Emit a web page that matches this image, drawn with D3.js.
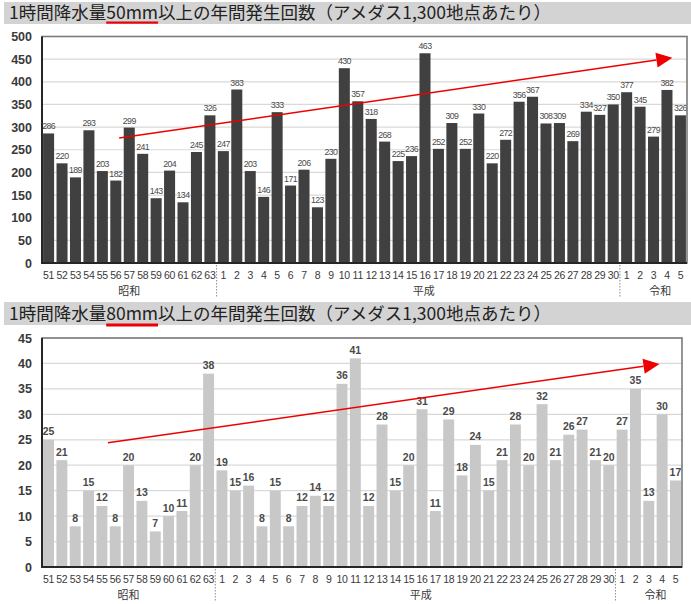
<!DOCTYPE html>
<html>
<head>
<meta charset="utf-8">
<script src="https://cdn.jsdelivr.net/npm/d3@7"></script>
<style>
  html, body { margin: 0; padding: 0; background: #fff; }
  svg { display: block; }
</style>
</head>
<body>
<svg id="chart" width="691" height="604"></svg>
<script>
// Fiscal years: Showa 51–63, Heisei 1–30, Reiwa 1–5
const showaYears = ["51","52","53","54","55","56","57","58","59","60","61","62","63"];
const heiseiYears = d3.range(1, 31).map(String);
const reiwaYears = d3.range(1, 6).map(String);
const eras = [
  { name: "昭和", years: showaYears },
  { name: "平成", years: heiseiYears },
  { name: "令和", years: reiwaYears }
];

// Annual count of hourly rainfall >= 50mm (per 1,300 AMeDAS stations)
const count50mm = [
  286, 220, 189, 293, 203, 182, 299, 241, 143, 204, 134, 245, 326,
  247, 383, 203, 146, 333, 171, 206, 123, 230, 430, 357, 318, 268, 225, 236, 463, 252,
  309, 252, 330, 220, 272, 356, 367, 308, 309, 269, 334, 327, 350,
  377, 345, 279, 382, 326
];

// Annual count of hourly rainfall >= 80mm (per 1,300 AMeDAS stations)
const count80mm = [
  25, 21, 8, 15, 12, 8, 20, 13, 7, 10, 11, 20, 38,
  19, 15, 16, 8, 15, 8, 12, 14, 12, 36, 41, 12, 28, 15, 20, 31, 11,
  29, 18, 24, 15, 21, 28, 20, 32, 21, 26, 27, 21, 20,
  27, 35, 13, 30, 17
];

const ticks50 = [0, 50, 100, 150, 200, 250, 300, 350, 400, 450, 500];
const ticks80 = [0, 5, 10, 15, 20, 25, 30, 35, 40, 45];

// Trend arrows, given as (bar position, value) at each end
const trend50 = [{ pos: 5.25, value: 276 }, { pos: 46.4, value: 453 }];
const trend80 = [{ pos: 4.45, value: 24.4 }, { pos: 45.8, value: 39.9 }];

const titles = [
  { pre: "1時間降水量", mark: "50mm", post: "以上の年間発生回数（アメダス1,300地点あたり）" },
  { pre: "1時間降水量", mark: "80mm", post: "以上の年間発生回数（アメダス1,300地点あたり）" }
];

// Build category keys (era + year) so labels can repeat across eras
const categories = [];
eras.forEach((e, ei) => e.years.forEach(y => categories.push({ key: e.name + y, label: y, era: ei })));

const svg = d3.select("#chart");

function drawPanel(opt) {
  const g = svg.append("g");

  // Title bar
  g.append("rect")
    .attr("x", 4).attr("y", opt.titleY)
    .attr("width", 687).attr("height", opt.titleH)
    .attr("fill", "#d3d3d3");

  const title = g.append("text")
    .attr("x", 9).attr("y", opt.titleY + opt.titleH - 5)
    .attr("font-family", "'Noto Sans CJK JP', sans-serif")
    .attr("font-size", 17.5)
    .attr("font-weight", 400)
    .attr("fill", "#222");
  title.append("tspan").text(opt.title.pre);
  title.append("tspan").text(opt.title.mark);
  title.append("tspan").text(opt.title.post);

  // Red underline beneath the threshold
  const node = title.node();
  const i0 = opt.title.pre.length;
  const i1 = i0 + opt.title.mark.length - 1;
  const ux0 = node.getStartPositionOfChar(i0).x;
  const ux1 = node.getEndPositionOfChar(i1).x;
  g.append("rect")
    .attr("x", ux0).attr("y", opt.underlineY)
    .attr("width", ux1 - ux0).attr("height", opt.underlineH)
    .attr("fill", "#e8000b");

  const x = d3.scaleBand()
    .domain(categories.map(c => c.key))
    .range([opt.left, opt.right])
    .paddingInner(0.18)
    .paddingOuter(0.08);

  const y = d3.scaleLinear()
    .domain([0, opt.ticks[opt.ticks.length - 1]])
    .range([opt.bottom, opt.top]);

  // Horizontal gridlines
  g.append("g").selectAll("line")
    .data(opt.ticks.slice(1))
    .join("line")
    .attr("x1", opt.left).attr("x2", opt.right)
    .attr("y1", d => y(d)).attr("y2", d => y(d))
    .attr("stroke", "#d9d9d9").attr("stroke-width", 1.2);

  // Y axis labels
  const yAxis = d3.axisLeft(y).tickValues(opt.ticks).tickSize(0).tickPadding(10);
  const ya = g.append("g").attr("transform", `translate(${opt.left},0)`).call(yAxis);
  ya.select(".domain").remove();
  ya.selectAll("text")
    .attr("font-family", "'Liberation Sans', Arial, sans-serif")
    .attr("font-size", 12.5)
    .attr("font-weight", "bold")
    .attr("fill", "#3a3a3a");

  // Bars
  const data = categories.map((c, i) => ({ ...c, value: opt.values[i] }));
  g.append("g").selectAll("rect")
    .data(data)
    .join("rect")
    .attr("x", d => x(d.key))
    .attr("y", d => y(d.value))
    .attr("width", x.bandwidth())
    .attr("height", d => y(0) - y(d.value))
    .attr("fill", opt.barColor);

  // Value labels
  g.append("g").selectAll("text")
    .data(data)
    .join("text")
    .attr("x", d => x(d.key) + x.bandwidth() / 2)
    .attr("y", d => y(d.value) - opt.labelGap)
    .attr("text-anchor", "middle")
    .attr("font-family", "'Liberation Sans', Arial, sans-serif")
    .attr("font-size", opt.labelSize)
    .attr("font-weight", opt.labelWeight)
    .attr("letter-spacing", opt.labelSpacing)
    .attr("fill", "#4a4a4a")
    .text(d => d.value);

  // Plot frame: grey top/right, dark axes at left/bottom
  g.append("rect")
    .attr("x", opt.left).attr("y", opt.top)
    .attr("width", opt.right - opt.left).attr("height", opt.bottom - opt.top)
    .attr("fill", "none").attr("stroke", "#7a7a7a").attr("stroke-width", 1.6);
  g.append("path")
    .attr("d", `M${opt.left},${opt.top}V${opt.bottom}H${opt.right}`)
    .attr("fill", "none").attr("stroke", "#262626").attr("stroke-width", 2);

  // X axis year labels
  const xAxis = d3.axisBottom(x).tickSize(0).tickPadding(9)
    .tickFormat(k => categories.find(c => c.key === k).label);
  const xa = g.append("g").attr("transform", `translate(0,${opt.bottom})`).call(xAxis);
  xa.select(".domain").remove();
  xa.selectAll("text")
    .attr("font-family", "'Liberation Sans', Arial, sans-serif")
    .attr("font-size", 10.5)
    .attr("letter-spacing", -0.3)
    .attr("fill", "#3a3a3a");

  // Era separators (dotted) and era names
  const step = x.step();
  let start = 0;
  eras.forEach((e, ei) => {
    const first = categories[start].key;
    const last = categories[start + e.years.length - 1].key;
    const cx = (x(first) + x(last) + x.bandwidth()) / 2;
    g.append("text")
      .attr("x", cx + opt.eraShift[ei] * step)
      .attr("y", opt.bottom + 32)
      .attr("text-anchor", "middle")
      .attr("font-family", "'Noto Sans CJK JP', sans-serif")
      .attr("font-size", 11)
      .attr("fill", "#3a3a3a")
      .text(e.name);
    if (ei < eras.length - 1) {
      const sx = x(last) + x.bandwidth() + (step - x.bandwidth()) / 2;
      g.append("line")
        .attr("x1", sx).attr("x2", sx)
        .attr("y1", opt.bottom + 2).attr("y2", opt.bottom + 34)
        .attr("stroke", "#8a8a8a").attr("stroke-width", 1)
        .attr("stroke-dasharray", "1.5,1.5");
    }
    start += e.years.length;
  });

  // Trend arrow
  const px = p => x(categories[0].key) + x.bandwidth() / 2 + p.pos * step;
  const [a, b] = opt.trend;
  const x0 = px(a), y0 = y(a.value), x1 = px(b), y1 = y(b.value);
  const ang = Math.atan2(y1 - y0, x1 - x0);
  const headLen = 16, headW = 7.5;
  const bx = x1 - headLen * Math.cos(ang), by = y1 - headLen * Math.sin(ang);
  g.append("line")
    .attr("x1", x0).attr("y1", y0).attr("x2", bx).attr("y2", by)
    .attr("stroke", "#ee0000").attr("stroke-width", 1.5);
  g.append("path")
    .attr("d", `M${x1},${y1}L${bx + headW * Math.sin(ang)},${by - headW * Math.cos(ang)}L${bx - headW * Math.sin(ang)},${by + headW * Math.cos(ang)}Z`)
    .attr("fill", "#ee0000");
}

drawPanel({
  title: titles[0], titleY: 2, titleH: 22, underlineY: 21.5, underlineH: 2.2,
  left: 42, right: 687, top: 36.5, bottom: 263,
  values: count50mm, ticks: ticks50, trend: trend50,
  barColor: "#404040", labelSize: 8.8, labelWeight: "normal", labelGap: 4,
  labelSpacing: -0.6,
  eraShift: [0, 0.4, 0.5]
});

drawPanel({
  title: titles[1], titleY: 302, titleH: 23, underlineY: 323.5, underlineH: 3,
  left: 42, right: 682, top: 338, bottom: 567,
  values: count80mm, ticks: ticks80, trend: trend80,
  barColor: "#c8c8c8", labelSize: 10.5, labelWeight: "bold", labelGap: 4.5,
  labelSpacing: 0,
  eraShift: [0, 0.4, 0.5]
});
</script>
</body>
</html>
